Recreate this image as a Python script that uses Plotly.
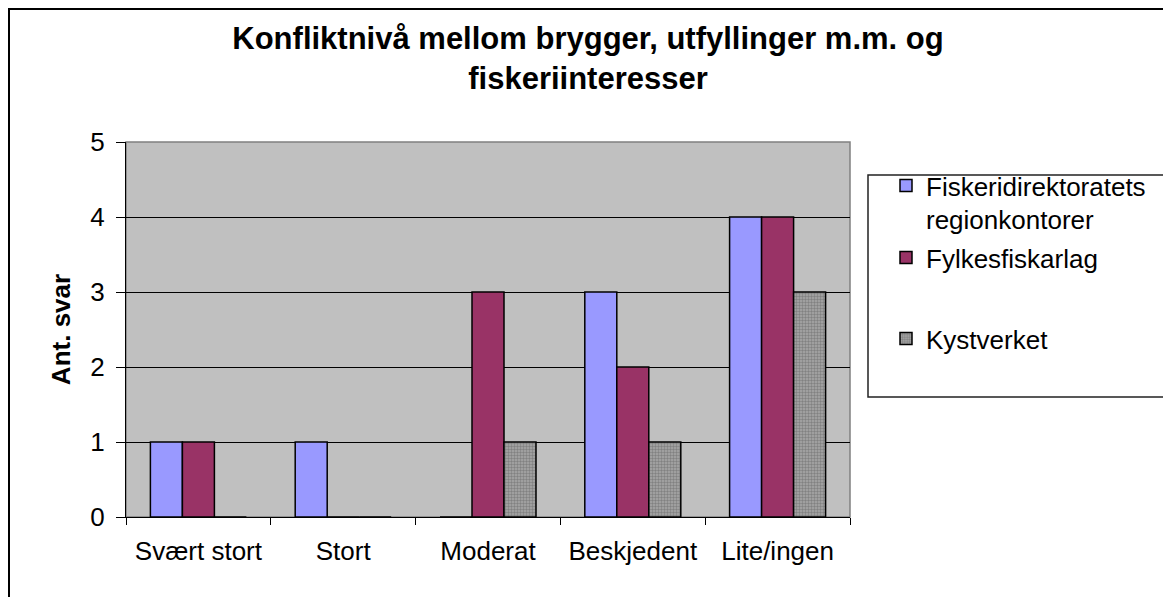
import plotly.graph_objects as go

categories = ["Svært stort", "Stort", "Moderat", "Beskjedent", "Lite/ingen"]
fiskeridir = [1, 1, 0, 3, 4]
fylkesfisk = [1, 0, 3, 2, 4]
kystverket = [0, 0, 1, 1, 3]

names = ["Fiskeridirektoratets<br>regionkontorer", "Fylkesfiskarlag", "Kystverket"]
title_text = "Konfliktnivå mellom brygger, utfyllinger m.m. og<br>fiskeriinteresser"
y_title = "Ant. svar"

OFF = 8  # page body margin
W, H = 1171 - OFF, 597 - OFF
# plot area in screen pixels, converted to figure pixels
L, R, T, B = 126 - OFF, 850 - OFF, 142 - OFF, 517 - OFF
PW, PH = R - L, B - T

def px(x):  # screen x -> paper
    return (x - OFF - L) / PW

def py(y):  # screen y -> paper
    return (B - (y - OFF)) / PH

FONT = "Liberation Sans, Arial, sans-serif"

fig = go.Figure()
fig.add_trace(go.Bar(x=categories, y=fiskeridir, name=names[0], legend="legend",
                     marker=dict(color="#9999FF", line=dict(color="black", width=1.5))))
fig.add_trace(go.Bar(x=categories, y=fylkesfisk, name=names[1], legend="legend2",
                     marker=dict(color="#993366", line=dict(color="black", width=1.5))))
fig.add_trace(go.Bar(x=categories, y=kystverket, name=names[2], legend="legend3",
                     marker=dict(color="#8c8c8c", line=dict(color="black", width=1.5),
                                 pattern=dict(shape=".", fgcolor="#5a5a5a", bgcolor="#a8a8a8",
                                              size=3, solidity=0.5))))

leg_common = dict(font=dict(family=FONT, size=26, color="black"), bgcolor="rgba(0,0,0,0)",
                  borderwidth=0, xanchor="left", yanchor="top", valign="top",
                  itemclick=False, itemdoubleclick=False, visible=True)

fig.update_layout(
    width=W, height=H,
    margin=dict(l=L, r=W - R, t=T, b=H - B, autoexpand=False),
    paper_bgcolor="white",
    plot_bgcolor="#C0C0C0",
    barmode="group",
    bargap=0.337,
    bargroupgap=0,
    showlegend=True,
    font=dict(family=FONT, size=26, color="black"),
    title=dict(text=title_text, x=(588 - OFF) / W, xanchor="center", xref="container",
               y=1 - 41 / H, yanchor="top", yref="container",
               font=dict(family=FONT, size=31, color="black", weight="bold")),
    legend=dict(x=px(886), y=py(162), **leg_common),
    legend2=dict(x=px(886), y=py(234), **leg_common),
    legend3=dict(x=px(886), y=py(315), **leg_common),
    xaxis=dict(type="category", tickson="boundaries", ticks="outside", ticklen=7,
               tickcolor="black", tickwidth=1, showline=True, linecolor="black",
               linewidth=1, showgrid=False, tickfont=dict(size=26), automargin=False,
               ticklabelstandoff=11, fixedrange=True),
    yaxis=dict(range=[0, 5], dtick=1, tick0=0, ticks="outside", ticklen=9,
               tickcolor="black", tickwidth=1, showline=True, linecolor="black",
               linewidth=1, showgrid=True, gridcolor="black", gridwidth=1,
               zeroline=False, tickfont=dict(size=26), automargin=False,
               ticklabelstandoff=6,
               title=dict(text=y_title, font=dict(size=26, weight="bold"), standoff=12),
               fixedrange=True),
    shapes=[
        dict(type="rect", xref="paper", yref="paper", x0=0, x1=1, y0=0, y1=1,
             line=dict(color="#808080", width=1.5), layer="between"),
        dict(type="rect", xref="paper", yref="paper", x0=px(9), x1=px(1190),
             y0=py(615), y1=py(9), line=dict(color="black", width=2), layer="above"),
        dict(type="rect", xref="paper", yref="paper", x0=px(868), x1=px(1190),
             y0=py(397), y1=py(175), line=dict(color="#222222", width=1.5), layer="above"),
    ],
)

fig.write_html("out.html")
